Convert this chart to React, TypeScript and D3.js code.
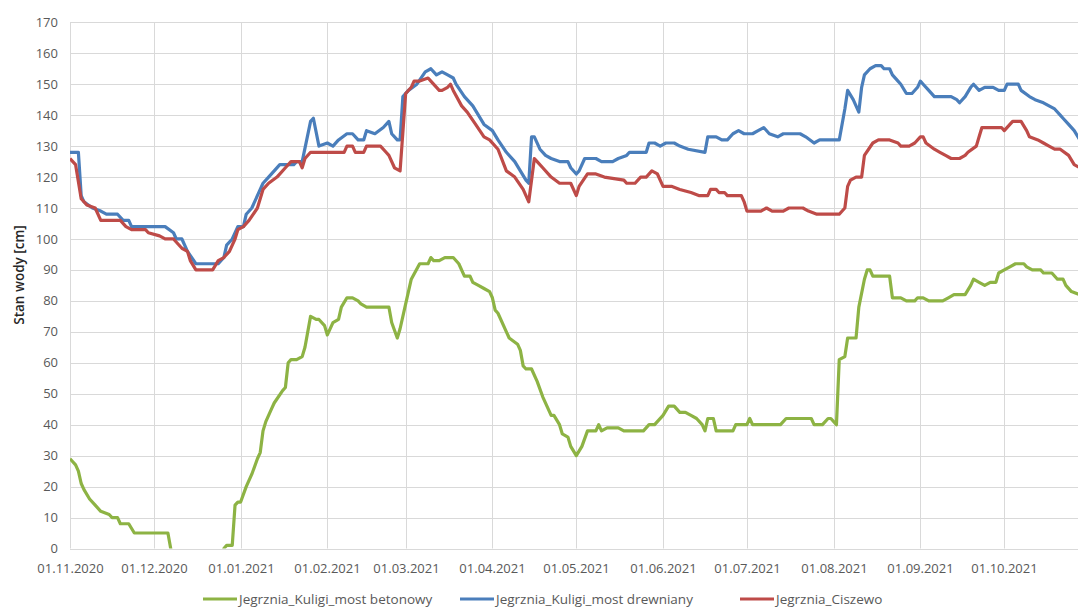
import { useEffect, useRef } from 'react';
import * as d3 from 'd3';

// day offsets from 01.11.2020 and water level [cm]
const betonowy: [number, number][] = [
  [0, 29], [2, 27], [3, 25], [4, 21], [5, 19], [7, 16], [9, 14], [11, 12], [14, 11], [15, 10], [17, 10], [18, 8],
  [21, 8], [23, 5], [35, 5], [36, 0], [38, -10], [54, -10], [55, 0], [56, 1], [58, 1], [59, 14], [60, 15], [61, 15],
  [63, 20], [65, 24], [67, 29], [68, 31], [69, 38], [70, 41], [72, 45], [73, 47], [76, 51], [77, 52], [78, 60],
  [79, 61], [81, 61], [83, 62], [84, 65], [86, 75], [88, 74], [89, 74], [91, 72], [92, 69], [94, 73], [96, 74],
  [97, 78], [99, 81], [101, 81], [103, 80], [104, 79], [106, 78], [114, 78], [115, 73], [117, 68], [118, 71],
  [120, 79], [122, 87], [125, 92], [128, 92], [129, 94], [130, 93], [132, 93], [134, 94], [137, 94], [139, 92],
  [141, 88], [143, 88], [144, 86], [146, 85], [148, 84], [150, 83], [151, 81], [152, 77], [153, 76], [156, 70],
  [157, 68], [160, 66], [161, 64], [162, 59], [163, 58], [165, 58], [167, 54], [169, 49], [172, 43], [173, 43],
  [175, 40], [176, 37], [178, 36], [179, 33], [181, 30], [183, 33], [185, 38], [188, 38], [189, 40], [190, 38],
  [192, 39], [196, 39], [198, 38], [205, 38], [207, 40], [209, 40], [212, 43], [214, 46], [216, 46], [218, 44],
  [220, 44], [222, 43], [224, 42], [226, 40], [227, 38], [228, 42], [230, 42], [231, 38], [237, 38], [238, 40],
  [242, 40], [243, 42], [244, 40], [254, 40], [256, 42], [265, 42], [266, 40], [269, 40], [271, 42], [272, 42],
  [274, 40], [275, 61], [277, 62], [278, 68], [281, 68], [282, 78], [284, 87], [285, 90], [286, 90], [287, 88],
  [293, 88], [294, 81], [297, 81], [299, 80], [302, 80], [303, 81], [305, 81], [307, 80], [312, 80], [314, 81],
  [316, 82], [320, 82], [322, 85], [323, 87], [325, 86], [327, 85], [329, 86], [331, 86], [332, 89], [334, 90],
  [336, 91], [338, 92], [341, 92], [342, 91], [344, 90], [347, 90], [348, 89], [351, 89], [353, 87], [355, 87],
  [356, 85], [358, 83], [361, 82], [364, 82],
];

const drewniany: [number, number][] = [
  [0, 128], [3, 128], [4, 114], [5, 112], [8, 110], [11, 109], [13, 108], [17, 108], [19, 106], [21, 106], [22, 104],
  [34, 104], [37, 102], [38, 100], [40, 100], [42, 96], [45, 92], [53, 92], [55, 94], [56, 98], [58, 100], [60, 104],
  [62, 104], [63, 108], [65, 110], [68, 116], [69, 118], [71, 120], [73, 122], [75, 124], [80, 124], [81, 125],
  [83, 125], [86, 138], [87, 139], [89, 130], [92, 131], [94, 130], [96, 132], [99, 134], [101, 134], [103, 132],
  [105, 132], [106, 135], [109, 134], [112, 136], [114, 138], [115, 134], [117, 132], [118, 132], [119, 146],
  [121, 148], [124, 150], [127, 154], [129, 155], [131, 153], [133, 154], [135, 153], [137, 152], [138, 150],
  [141, 146], [144, 143], [148, 137], [151, 135], [153, 132], [156, 128], [159, 125], [161, 122], [163, 119],
  [164, 118], [165, 133], [166, 133], [168, 129], [170, 127], [172, 126], [175, 125], [178, 125], [179, 123],
  [181, 121], [182, 122], [184, 126], [188, 126], [190, 125], [194, 125], [196, 126], [199, 127], [200, 128],
  [206, 128], [207, 131], [209, 131], [211, 130], [213, 131], [216, 131], [218, 130], [221, 129], [227, 128],
  [228, 133], [231, 133], [233, 132], [235, 132], [237, 134], [239, 135], [241, 134], [244, 134], [246, 135],
  [248, 136], [250, 134], [253, 133], [255, 134], [261, 134], [263, 133], [266, 131], [268, 132], [275, 132],
  [277, 142], [278, 148], [280, 145], [282, 141], [283, 149], [284, 153], [286, 155], [288, 156], [290, 156],
  [291, 155], [293, 155], [294, 153], [296, 151], [297, 150], [299, 147], [301, 147], [303, 149], [304, 151],
  [305, 150], [307, 148], [309, 146], [315, 146], [317, 145], [318, 144], [320, 146], [322, 149], [323, 150],
  [325, 148], [327, 149], [330, 149], [332, 148], [334, 148], [335, 150], [339, 150], [340, 148], [343, 146],
  [345, 145], [348, 144], [350, 143], [352, 142], [354, 140], [355, 139], [357, 137], [359, 135], [361, 132],
  [364, 129],
];

const ciszewo: [number, number][] = [
  [0, 126], [2, 124], [4, 113], [6, 111], [9, 110], [11, 106], [18, 106], [20, 104], [22, 103], [27, 103], [28, 102],
  [32, 101], [34, 100], [37, 100], [40, 97], [42, 96], [43, 93], [45, 90], [51, 90], [53, 93], [55, 94], [57, 96],
  [59, 100], [60, 103], [62, 104], [64, 106], [67, 110], [69, 116], [71, 118], [74, 120], [77, 123], [79, 125],
  [82, 125], [83, 123], [84, 126], [86, 128], [98, 128], [99, 130], [101, 130], [102, 128], [105, 128], [106, 130],
  [111, 130], [113, 128], [114, 127], [116, 123], [118, 122], [120, 147], [122, 149], [123, 151], [125, 151],
  [128, 152], [129, 151], [132, 148], [133, 148], [135, 149], [136, 150], [137, 148], [140, 143], [142, 141],
  [145, 137], [148, 133], [150, 132], [153, 129], [156, 122], [159, 120], [162, 116], [164, 112], [166, 126],
  [167, 125], [169, 123], [172, 120], [175, 118], [179, 118], [181, 114], [182, 117], [185, 121], [188, 121],
  [191, 120], [198, 119], [199, 118], [202, 118], [204, 120], [206, 120], [208, 122], [210, 121], [212, 117],
  [215, 117], [218, 116], [222, 115], [225, 114], [228, 114], [229, 116], [231, 116], [232, 115], [234, 115],
  [235, 114], [240, 114], [241, 112], [242, 109], [244, 109], [247, 109], [249, 110], [251, 109], [255, 109],
  [257, 110], [262, 110], [264, 109], [267, 108], [275, 108], [277, 110], [278, 117], [279, 119], [281, 120],
  [283, 120], [284, 127], [287, 131], [289, 132], [293, 132], [296, 131], [297, 130], [300, 130], [302, 131],
  [304, 133], [305, 133], [306, 131], [309, 129], [311, 128], [313, 127], [315, 126], [318, 126], [320, 127],
  [321, 128], [324, 130], [325, 133], [326, 136], [333, 136], [334, 135], [336, 137], [337, 138], [340, 138],
  [342, 135], [343, 133], [346, 132], [348, 131], [350, 130], [352, 129], [354, 129], [357, 127], [359, 124],
  [361, 123], [364, 121],
];

const xTickLabels = [
  '01.11.2020', '01.12.2020', '01.01.2021', '01.02.2021', '01.03.2021', '01.04.2021',
  '01.05.2021', '01.06.2021', '01.07.2021', '01.08.2021', '01.09.2021', '01.10.2021',
];
const yTicks = [0, 10, 20, 30, 40, 50, 60, 70, 80, 90, 100, 110, 120, 130, 140, 150, 160, 170];

const seriesNames = ['Jegrznia_Kuligi_most betonowy', 'Jegrznia_Kuligi_most drewniany', 'Jegrznia_Ciszewo'];

const App = () => {
  const svgRef = useRef(null);

  useEffect(() => {
    const svg = d3.select(svgRef.current);
    svg.selectAll('*').remove();

    const W = 1078, H = 610;
    const font = '"Open Sans", "DejaVu Sans", sans-serif';
    const start = new Date(2020, 10, 1);
    const end = new Date(2021, 10, 1);
    const parse = d3.timeParse('%d.%m.%Y');

    const x = d3.scaleTime().domain([start, end]).range([70, 1091]);
    const y = d3.scaleLinear().domain([0, 170]).range([548.5, 22.3]);

    svg.append('rect').attr('width', W).attr('height', H).attr('fill', '#fff');

    svg.append('defs').append('clipPath').attr('id', 'plot')
      .append('rect')
      .attr('x', 70).attr('y', y(170) - 3)
      .attr('width', 1091 - 70).attr('height', y(0) - y(170) + 3);

    // horizontal grid
    const grid = svg.append('g');
    yTicks.forEach(t => {
      grid.append('line')
        .attr('x1', 70).attr('x2', W)
        .attr('y1', Math.round(y(t)) + 0.5).attr('y2', Math.round(y(t)) + 0.5)
        .attr('stroke', '#d9d9d9').attr('stroke-width', 1);
      svg.append('text')
        .attr('x', 58).attr('y', y(t))
        .attr('dy', '0.35em')
        .attr('text-anchor', 'end')
        .attr('font-family', font).attr('font-size', 13)
        .attr('fill', '#595959')
        .text(t);
    });

    // vertical grid + month labels
    xTickLabels.forEach(lbl => {
      const xp = Math.round(x(parse(lbl))) + 0.5;
      grid.append('line')
        .attr('x1', xp).attr('x2', xp)
        .attr('y1', y(170)).attr('y2', y(0))
        .attr('stroke', '#d9d9d9').attr('stroke-width', 1);
      svg.append('text')
        .attr('x', xp).attr('y', 573)
        .attr('text-anchor', 'middle')
        .attr('font-family', font).attr('font-size', 13)
        .attr('fill', '#595959')
        .text(lbl);
    });

    // y axis title
    svg.append('text')
      .attr('transform', 'translate(19,275) rotate(-90)')
      .attr('text-anchor', 'middle')
      .attr('dy', '0.35em')
      .attr('font-family', font).attr('font-size', 13.5).attr('font-weight', 600)
      .attr('fill', '#262626')
      .text('Stan wody [cm]');

    const line = d3.line<[number, number]>()
      .x(d => x(d3.timeDay.offset(start, d[0])))
      .y(d => y(d[1]));

    const colors = ['#8db344', '#4a7ebb', '#be4b48'];
    const allSeries = [betonowy, drewniany, ciszewo];
    const lines = svg.append('g').attr('clip-path', 'url(#plot)');
    [drewniany, ciszewo, betonowy].forEach(s => {
      lines.append('path')
        .datum(s)
        .attr('fill', 'none')
        .attr('stroke', colors[allSeries.indexOf(s)])
        .attr('stroke-width', 3.2)
        .attr('stroke-linejoin', 'round')
        .attr('d', line);
    });

    // legend
    const legendX = [203, 460, 740];
    seriesNames.forEach((name, i) => {
      svg.append('line')
        .attr('x1', legendX[i]).attr('x2', legendX[i] + 34)
        .attr('y1', 599).attr('y2', 599)
        .attr('stroke', colors[i]).attr('stroke-width', 3);
      svg.append('text')
        .attr('x', legendX[i] + 36).attr('y', 599)
        .attr('dy', '0.35em')
        .attr('font-family', font).attr('font-size', 13.5)
        .attr('fill', '#595959')
        .text(name);
    });
  }, []);

  return (
    <svg ref={svgRef} width={1078} height={610}
      style={{ position: 'absolute', left: 0, top: 0, display: 'block' }} />
  );
};

export default App;
